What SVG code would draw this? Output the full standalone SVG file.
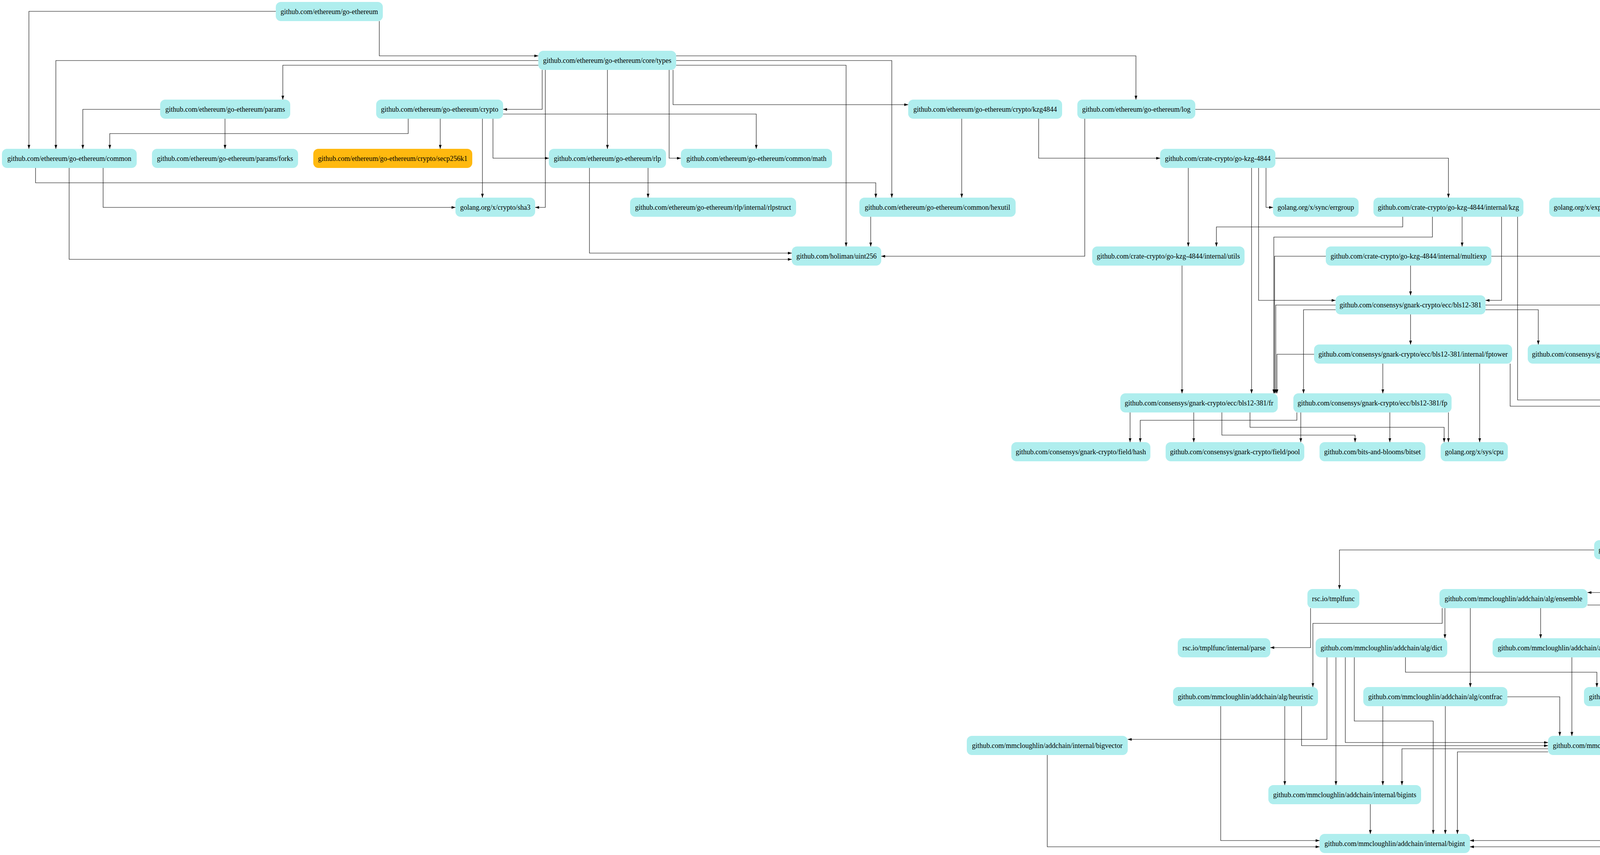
<svg xmlns="http://www.w3.org/2000/svg" width="7050" height="2189" viewBox="0 0 7050 2189">
<style>
.n rect{fill:#afeeee;stroke:none}
.n.o rect{fill:#ffb90f}
.n text{font-family:"Liberation Serif","Times New Roman",serif;font-size:18px;text-anchor:middle;fill:#000}
#edges polyline{fill:none;stroke:#000;stroke-width:1.1;marker-end:url(#ah)}
</style>
<defs>
<marker id="ah" markerUnits="userSpaceOnUse" viewBox="0 0 10 7" refX="10" refY="3.5" markerWidth="10" markerHeight="7" orient="auto"><path d="M0,0L10,3.5L0,7z" fill="#000"/></marker>
</defs>
<rect width="7050" height="2189" fill="#fff"/>
<g id="edges">
<polyline points="706,29 74,29 74,381"/>
<polyline points="971,54 971,143 1378,143"/>
<polyline points="1378,155 143,155 143,381"/>
<polyline points="1378,167 724,167 724,255"/>
<polyline points="1388,179 1388,280 1288,280"/>
<polyline points="1396,179 1396,531 1370,531"/>
<polyline points="1555,179 1555,381"/>
<polyline points="1713,179 1713,405 1743,405"/>
<polyline points="1723,179 1723,268 2325,268"/>
<polyline points="1731,143 2908,143 2908,255"/>
<polyline points="1731,155 2283,155 2283,506"/>
<polyline points="1731,167 2166,167 2166,631"/>
<polyline points="410,280 212,280 212,381"/>
<polyline points="576,304 576,381"/>
<polyline points="1045,304 1045,342 281,342 281,381"/>
<polyline points="1127,304 1127,381"/>
<polyline points="1235,304 1235,506"/>
<polyline points="1262,304 1262,405 1405,405"/>
<polyline points="1288,292 1936,292 1936,381"/>
<polyline points="91,430 91,468 2242,468 2242,506"/>
<polyline points="177,430 177,664 2027,664"/>
<polyline points="264,430 264,531 1166,531"/>
<polyline points="1659,430 1659,506"/>
<polyline points="1509,430 1509,648 2027,648"/>
<polyline points="2462,304 2462,506"/>
<polyline points="2659,304 2659,405 2970,405"/>
<polyline points="2229,555 2229,631"/>
<polyline points="2777,304 2777,656 2256,656"/>
<polyline points="3060,280 4236,280 4236,381"/>
<polyline points="4175,430 4175,506"/>
<polyline points="4284,430 4284,506"/>
<polyline points="4326,405 4673,405 4673,506"/>
<polyline points="4676,555 4676,631"/>
<polyline points="3042,430 3042,631"/>
<polyline points="3241,430 3241,531 3259,531"/>
<polyline points="3265,405 3708,405 3708,506"/>
<polyline points="3204,430 3204,1007"/>
<polyline points="3222,430 3222,769 3419,769"/>
<polyline points="3591,555 3591,581 3114,581 3114,631"/>
<polyline points="3667,555 3667,607 3261,607 3261,1007"/>
<polyline points="3743,555 3743,631"/>
<polyline points="3844,555 3844,769 3803,769"/>
<polyline points="3885,555 3885,1024 4252,1024"/>
<polyline points="3394,656 3263,656 3263,1007"/>
<polyline points="3611,680 3611,756"/>
<polyline points="3818,656 4458,656 4458,1007"/>
<polyline points="3026,680 3026,1007"/>
<polyline points="3419,781 3266,781 3266,1007"/>
<polyline points="3419,793 3337,793 3337,1007"/>
<polyline points="3611,805 3611,882"/>
<polyline points="3803,781 4384,781 4384,1007"/>
<polyline points="3803,793 3938,793 3938,882"/>
<polyline points="3364,907 3269,907 3269,1007"/>
<polyline points="3540,931 3540,1007"/>
<polyline points="3788,931 3788,1132"/>
<polyline points="3866,931 3866,1040 4252,1040"/>
<polyline points="2893,1056 2893,1132"/>
<polyline points="3056,1056 3056,1132"/>
<polyline points="3128,1056 3128,1114 3469,1114 3469,1132"/>
<polyline points="3200,1056 3200,1094 3697,1094 3697,1132"/>
<polyline points="3320,1056 3320,1076 2919,1076 2919,1132"/>
<polyline points="3330,1056 3330,1132"/>
<polyline points="3558,1056 3558,1132"/>
<polyline points="3708,1056 3708,1132"/>
<polyline points="4407,1056 4407,1132"/>
<polyline points="4407,1181 4407,1258"/>
<polyline points="4251,1307 4251,1383"/>
<polyline points="4552,1307 4552,1408 4854,1408"/>
<polyline points="4081,1408 3429,1408 3429,1508"/>
<polyline points="3355,1557 3355,1658 3252,1658"/>
<polyline points="4871,1432 4871,1517 4064,1517"/>
<polyline points="4888,1432 4888,1645 4818,1645"/>
<polyline points="4905,1432 4905,1759"/>
<polyline points="4980,1432 4980,1911 4240,1911"/>
<polyline points="5003,1432 5003,1896 6171,1896"/>
<polyline points="5210,1432 5210,1634"/>
<polyline points="5292,1432 5292,1525 5577,1525"/>
<polyline points="5376,1400 6927,1400 6927,1884"/>
<polyline points="5376,1416 6001,1416 6001,1759"/>
<polyline points="3692,1557 3692,1596 3361,1596 3361,1759"/>
<polyline points="3699,1557 3699,1634"/>
<polyline points="3764,1557 3764,1759"/>
<polyline points="3944,1557 3944,1634"/>
<polyline points="4064,1549 4236,1549 4236,1759"/>
<polyline points="4475,1658 4339,1658 4339,1759"/>
<polyline points="4528,1683 4528,1901 4240,1901"/>
<polyline points="4581,1683 4581,2152 3763,2152"/>
<polyline points="3397,1683 3397,1893 2887,1893"/>
<polyline points="3420,1683 3420,2010"/>
<polyline points="3444,1683 3444,1901 3963,1901"/>
<polyline points="3467,1683 3467,1846 3669,1846 3669,2135"/>
<polyline points="3598,1683 3598,1721 4088,1721 4088,1759"/>
<polyline points="4024,1683 4024,1884"/>
<polyline points="4122,1683 4122,1759"/>
<polyline points="3125,1808 3125,2152 3378,2152"/>
<polyline points="3289,1808 3289,2010"/>
<polyline points="3332,1808 3332,1909 3963,1909"/>
<polyline points="3540,1808 3540,2010"/>
<polyline points="3700,1808 3700,2135"/>
<polyline points="3859,1784 3993,1784 3993,1884"/>
<polyline points="4147,1808 4147,1884"/>
<polyline points="3963,1917 3589,1917 3589,2010"/>
<polyline points="3963,1925 3731,1925 3731,2135"/>
<polyline points="3508,2059 3508,2135"/>
<polyline points="2681,1933 2681,2168 3378,2168"/>
<polyline points="5577,1533 4922,1533 4922,1759"/>
<polyline points="5577,1541 5421,1541 5421,1634"/>
<polyline points="5641,1557 5641,1922 4240,1922"/>
<polyline points="5761,1557 5761,2010"/>
<polyline points="5791,1557 5791,1891 6171,1891"/>
<polyline points="5818,1557 5818,1784 5875,1784"/>
<polyline points="5847,1557 5847,1651 6118,1651"/>
<polyline points="5127,1654 4939,1654 4939,1759"/>
<polyline points="5127,1664 5026,1664 5026,1917 4240,1917"/>
<polyline points="5127,1673 5050,1673 5050,2168 3763,2168"/>
<polyline points="5297,1683 5297,1759"/>
<polyline points="5468,1666 5732,1666 5732,2010"/>
<polyline points="4795,1808 4795,1906 4240,1906"/>
<polyline points="6293,1683 6293,1884"/>
<polyline points="6410,1683 6410,1759"/>
<polyline points="5947,1808 5947,2010"/>
<polyline points="6160,1808 6160,2010"/>
<polyline points="6203,1808 6203,1884"/>
<polyline points="6427,1808 6427,1884"/>
<polyline points="6337,1933 6337,2010"/>
<polyline points="6171,1928 6018,1928 6018,2010"/>
<polyline points="6726,1909 6514,1909 6514,2010"/>
</g>
<g id="n-goeth" class="n"><rect x="706" y="5" width="274" height="49" rx="13" ry="13"/><text x="843" y="35.5">github.com/ethereum/go-ethereum</text></g>
<g id="n-types" class="n"><rect x="1378" y="130" width="353" height="49" rx="13" ry="13"/><text x="1554.5" y="160.5">github.com/ethereum/go-ethereum/core/types</text></g>
<g id="n-params" class="n"><rect x="410" y="255" width="333" height="49" rx="13" ry="13"/><text x="576.5" y="285.5">github.com/ethereum/go-ethereum/params</text></g>
<g id="n-crypto" class="n"><rect x="963" y="255" width="325" height="49" rx="13" ry="13"/><text x="1125.5" y="285.5">github.com/ethereum/go-ethereum/crypto</text></g>
<g id="n-kzg4844" class="n"><rect x="2325" y="255" width="394" height="49" rx="13" ry="13"/><text x="2522" y="285.5">github.com/ethereum/go-ethereum/crypto/kzg4844</text></g>
<g id="n-log" class="n"><rect x="2758" y="255" width="302" height="49" rx="13" ry="13"/><text x="2909" y="285.5">github.com/ethereum/go-ethereum/log</text></g>
<g id="n-common" class="n"><rect x="5" y="381" width="345" height="49" rx="13" ry="13"/><text x="177.5" y="411.5">github.com/ethereum/go-ethereum/common</text></g>
<g id="n-forks" class="n"><rect x="389" y="381" width="374" height="49" rx="13" ry="13"/><text x="576" y="411.5">github.com/ethereum/go-ethereum/params/forks</text></g>
<g id="n-secp" class="n o"><rect x="802" y="381" width="407" height="49" rx="13" ry="13"/><text x="1005.5" y="411.5">github.com/ethereum/go-ethereum/crypto/secp256k1</text></g>
<g id="n-rlp" class="n"><rect x="1405" y="381" width="300" height="49" rx="13" ry="13"/><text x="1555" y="411.5">github.com/ethereum/go-ethereum/rlp</text></g>
<g id="n-math" class="n"><rect x="1743" y="381" width="387" height="49" rx="13" ry="13"/><text x="1936.5" y="411.5">github.com/ethereum/go-ethereum/common/math</text></g>
<g id="n-gokzg" class="n"><rect x="2970" y="381" width="295" height="49" rx="13" ry="13"/><text x="3117.5" y="411.5">github.com/crate-crypto/go-kzg-4844</text></g>
<g id="n-slog" class="n"><rect x="4146" y="381" width="180" height="49" rx="13" ry="13"/><text x="4236" y="411.5">golang.org/x/exp/slog</text></g>
<g id="n-sha3" class="n"><rect x="1166" y="506" width="204" height="49" rx="13" ry="13"/><text x="1268" y="536.5">golang.org/x/crypto/sha3</text></g>
<g id="n-rlpstruct" class="n"><rect x="1613" y="506" width="425" height="49" rx="13" ry="13"/><text x="1825.5" y="536.5">github.com/ethereum/go-ethereum/rlp/internal/rlpstruct</text></g>
<g id="n-hexutil" class="n"><rect x="2200" y="506" width="400" height="49" rx="13" ry="13"/><text x="2400" y="536.5">github.com/ethereum/go-ethereum/common/hexutil</text></g>
<g id="n-errgroup" class="n"><rect x="3259" y="506" width="219" height="49" rx="13" ry="13"/><text x="3368.5" y="536.5">golang.org/x/sync/errgroup</text></g>
<g id="n-kzg" class="n"><rect x="3516" y="506" width="384" height="49" rx="13" ry="13"/><text x="3708" y="536.5">github.com/crate-crypto/go-kzg-4844/internal/kzg</text></g>
<g id="n-sloginternal" class="n"><rect x="3966" y="506" width="240" height="49" rx="13" ry="13"/><text x="4086" y="536.5">golang.org/x/exp/slog/internal</text></g>
<g id="n-buffer" class="n"><rect x="4244" y="506" width="288" height="49" rx="13" ry="13"/><text x="4388" y="536.5">golang.org/x/exp/slog/internal/buffer</text></g>
<g id="n-slices" class="n"><rect x="4577" y="506" width="190" height="49" rx="13" ry="13"/><text x="4672" y="536.5">golang.org/x/exp/slices</text></g>
<g id="n-uint256" class="n"><rect x="2027" y="631" width="229" height="49" rx="13" ry="13"/><text x="2141.5" y="661.5">github.com/holiman/uint256</text></g>
<g id="n-utils" class="n"><rect x="2796" y="631" width="390" height="49" rx="13" ry="13"/><text x="2991" y="661.5">github.com/crate-crypto/go-kzg-4844/internal/utils</text></g>
<g id="n-multiexp" class="n"><rect x="3394" y="631" width="424" height="49" rx="13" ry="13"/><text x="3606" y="661.5">github.com/crate-crypto/go-kzg-4844/internal/multiexp</text></g>
<g id="n-constraints" class="n"><rect x="4583" y="631" width="228" height="49" rx="13" ry="13"/><text x="4697" y="661.5">golang.org/x/exp/constraints</text></g>
<g id="n-bls" class="n"><rect x="3419" y="756" width="384" height="49" rx="13" ry="13"/><text x="3611" y="786.5">github.com/consensys/gnark-crypto/ecc/bls12-381</text></g>
<g id="n-fptower" class="n"><rect x="3364" y="882" width="507" height="49" rx="13" ry="13"/><text x="3617.5" y="912.5">github.com/consensys/gnark-crypto/ecc/bls12-381/internal/fptower</text></g>
<g id="n-parallel" class="n"><rect x="3911" y="882" width="398" height="49" rx="13" ry="13"/><text x="4110" y="912.5">github.com/consensys/gnark-crypto/internal/parallel</text></g>
<g id="n-fr" class="n"><rect x="2868" y="1007" width="403" height="49" rx="13" ry="13"/><text x="3069.5" y="1037.5">github.com/consensys/gnark-crypto/ecc/bls12-381/fr</text></g>
<g id="n-fp" class="n"><rect x="3311" y="1007" width="405" height="49" rx="13" ry="13"/><text x="3513.5" y="1037.5">github.com/consensys/gnark-crypto/ecc/bls12-381/fp</text></g>
<g id="n-ecc" class="n"><rect x="4252" y="1007" width="310" height="49" rx="13" ry="13"/><text x="4407" y="1037.5">github.com/consensys/gnark-crypto/ecc</text></g>
<g id="n-hash" class="n"><rect x="2589" y="1132" width="356" height="49" rx="13" ry="13"/><text x="2767" y="1162.5">github.com/consensys/gnark-crypto/field/hash</text></g>
<g id="n-pool" class="n"><rect x="2984" y="1132" width="355" height="49" rx="13" ry="13"/><text x="3161.5" y="1162.5">github.com/consensys/gnark-crypto/field/pool</text></g>
<g id="n-bitset" class="n"><rect x="3378" y="1132" width="271" height="49" rx="13" ry="13"/><text x="3513.5" y="1162.5">github.com/bits-and-blooms/bitset</text></g>
<g id="n-cpu" class="n"><rect x="3688" y="1132" width="172" height="49" rx="13" ry="13"/><text x="3774" y="1162.5">golang.org/x/sys/cpu</text></g>
<g id="n-igconfig" class="n"><rect x="4175" y="1132" width="464" height="49" rx="13" ry="13"/><text x="4407" y="1162.5">github.com/consensys/gnark-crypto/internal/generator/config</text></g>
<g id="n-fgconfig" class="n"><rect x="4186" y="1258" width="443" height="49" rx="13" ry="13"/><text x="4407.5" y="1288.5">github.com/consensys/gnark-crypto/field/generator/config</text></g>
<g id="n-bavard" class="n"><rect x="4081" y="1383" width="236" height="49" rx="13" ry="13"/><text x="4199" y="1413.5">github.com/consensys/bavard</text></g>
<g id="n-gen" class="n"><rect x="4854" y="1383" width="522" height="49" rx="13" ry="13"/><text x="5115" y="1413.5">github.com/consensys/gnark-crypto/field/generator/internal/addchain</text></g>
<g id="n-tmplfunc" class="n"><rect x="3347" y="1508" width="133" height="49" rx="13" ry="13"/><text x="3413.5" y="1538.5">rsc.io/tmplfunc</text></g>
<g id="n-ensemble" class="n"><rect x="3685" y="1508" width="379" height="49" rx="13" ry="13"/><text x="3874.5" y="1538.5">github.com/mmcloughlin/addchain/alg/ensemble</text></g>
<g id="n-acc" class="n"><rect x="5577" y="1508" width="307" height="49" rx="13" ry="13"/><text x="5730.5" y="1538.5">github.com/mmcloughlin/addchain/acc</text></g>
<g id="n-tparse" class="n"><rect x="3015" y="1634" width="237" height="49" rx="13" ry="13"/><text x="3133.5" y="1664.5">rsc.io/tmplfunc/internal/parse</text></g>
<g id="n-dict" class="n"><rect x="3368" y="1634" width="337" height="49" rx="13" ry="13"/><text x="3536.5" y="1664.5">github.com/mmcloughlin/addchain/alg/dict</text></g>
<g id="n-opt" class="n"><rect x="3821" y="1634" width="334" height="49" rx="13" ry="13"/><text x="3988" y="1664.5">github.com/mmcloughlin/addchain/alg/opt</text></g>
<g id="n-exec" class="n"><rect x="4475" y="1634" width="343" height="49" rx="13" ry="13"/><text x="4646.5" y="1664.5">github.com/mmcloughlin/addchain/alg/exec</text></g>
<g id="n-pass" class="n"><rect x="5127" y="1634" width="341" height="49" rx="13" ry="13"/><text x="5297.5" y="1664.5">github.com/mmcloughlin/addchain/acc/pass</text></g>
<g id="n-aparse" class="n"><rect x="6118" y="1634" width="350" height="49" rx="13" ry="13"/><text x="6293" y="1664.5">github.com/mmcloughlin/addchain/acc/parse</text></g>
<g id="n-heuristic" class="n"><rect x="3003" y="1759" width="371" height="49" rx="13" ry="13"/><text x="3188.5" y="1789.5">github.com/mmcloughlin/addchain/alg/heuristic</text></g>
<g id="n-contfrac" class="n"><rect x="3490" y="1759" width="369" height="49" rx="13" ry="13"/><text x="3674.5" y="1789.5">github.com/mmcloughlin/addchain/alg/contfrac</text></g>
<g id="n-alg" class="n"><rect x="4055" y="1759" width="305" height="49" rx="13" ry="13"/><text x="4207.5" y="1789.5">github.com/mmcloughlin/addchain/alg</text></g>
<g id="n-ir" class="n"><rect x="4633" y="1759" width="323" height="49" rx="13" ry="13"/><text x="4794.5" y="1789.5">github.com/mmcloughlin/addchain/acc/ir</text></g>
<g id="n-heap" class="n"><rect x="5073" y="1759" width="449" height="49" rx="13" ry="13"/><text x="5297.5" y="1789.5">github.com/mmcloughlin/addchain/internal/container/heap</text></g>
<g id="n-printer" class="n"><rect x="5875" y="1759" width="359" height="49" rx="13" ry="13"/><text x="6054.5" y="1789.5">github.com/mmcloughlin/addchain/acc/printer</text></g>
<g id="n-parser" class="n"><rect x="6352" y="1759" width="459" height="49" rx="13" ry="13"/><text x="6581.5" y="1789.5">github.com/mmcloughlin/addchain/acc/parse/internal/parser</text></g>
<g id="n-bigvector" class="n"><rect x="2475" y="1884" width="412" height="49" rx="13" ry="13"/><text x="2681" y="1914.5">github.com/mmcloughlin/addchain/internal/bigvector</text></g>
<g id="n-addchain" class="n"><rect x="3963" y="1884" width="277" height="49" rx="13" ry="13"/><text x="4101.5" y="1914.5">github.com/mmcloughlin/addchain</text></g>
<g id="n-ast" class="n"><rect x="6171" y="1884" width="332" height="49" rx="13" ry="13"/><text x="6337" y="1914.5">github.com/mmcloughlin/addchain/acc/ast</text></g>
<g id="n-meta" class="n"><rect x="6726" y="1884" width="318" height="49" rx="13" ry="13"/><text x="6885" y="1914.5">github.com/mmcloughlin/addchain/meta</text></g>
<g id="n-bigints" class="n"><rect x="3247" y="2010" width="391" height="49" rx="13" ry="13"/><text x="3442.5" y="2040.5">github.com/mmcloughlin/addchain/internal/bigints</text></g>
<g id="n-errutil" class="n"><rect x="5705" y="2010" width="385" height="49" rx="13" ry="13"/><text x="5897.5" y="2040.5">github.com/mmcloughlin/addchain/internal/errutil</text></g>
<g id="n-print" class="n"><rect x="6149" y="2010" width="376" height="49" rx="13" ry="13"/><text x="6337" y="2040.5">github.com/mmcloughlin/addchain/internal/print</text></g>
<g id="n-bigint" class="n"><rect x="3378" y="2135" width="385" height="49" rx="13" ry="13"/><text x="3570.5" y="2165.5">github.com/mmcloughlin/addchain/internal/bigint</text></g>
</svg>
